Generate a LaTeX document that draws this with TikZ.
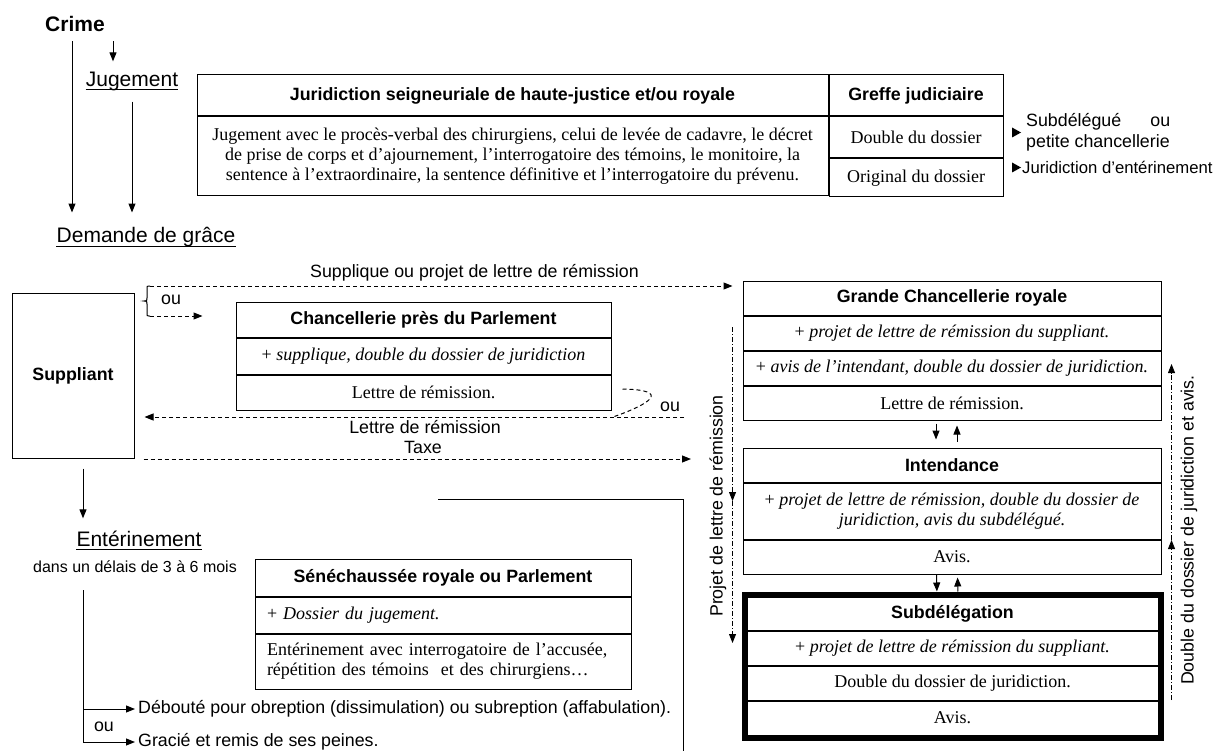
\documentclass[tikz,border=0pt]{standalone}
\usepackage{fontspec}
\setmainfont{Liberation Serif}
\setsansfont{Liberation Sans}
\usetikzlibrary{arrows.meta,positioning}

\newcommand\fgros{\fontsize{21}{24}\selectfont\sffamily}
\newcommand\ftitre{\fontsize{17.8}{20}\selectfont\sffamily\bfseries}
\newcommand\fsans{\fontsize{17.8}{21}\selectfont\sffamily}
\newcommand\fserif{\fontsize{18}{20}\selectfont\rmfamily}

\tikzset{
  case/.style={draw, line width=1pt, inner sep=0pt, align=center, font=\fserif},
  tete/.style={case, font=\ftitre},
  fleche/.style={line width=1pt, -{Triangle[length=9pt,width=7pt]}},
  tiret/.style={fleche, dash pattern=on 4pt off 3pt},
  mixte/.style={fleche, line width=0.8pt, dash pattern=on 5pt off 2pt on 1pt off 2pt},
  etiq/.style={font=\fsans, inner sep=0pt, align=left},
}

\begin{document}
\begin{tikzpicture}[x=1pt, y=-1pt]
 \useasboundingbox (0,0) rectangle (1230,751);
 % crime, jugement, demande
 \node[font=\fgros\bfseries, anchor=base, inner sep=0pt] (crime) at (75,32) {Crime};
 \node[font=\fgros, anchor=base, inner sep=0pt] (jug) at (132,87) {Jugement};
 \node[font=\fgros, anchor=base, inner sep=0pt] (dem) at (146,243) {Demande de grâce};
 \draw[line width=1pt] ([yshift=-3pt]jug.base west) -- ([yshift=-3pt]jug.base east);
 \draw[line width=1pt] ([yshift=-3pt]dem.base west) -- ([yshift=-3pt]dem.base east);
 \draw[fleche, shorten <=9pt, shorten >=15pt] ([xshift=-3pt]crime.south) -- ([xshift=-3pt]crime.south |- dem.north);
 \draw[fleche, shorten <=9pt, shorten >=11pt] ([xshift=38pt]crime.south) -- ([xshift=38pt]crime.south |- jug.north);
 \draw[fleche, shorten <=10pt, shorten >=15pt] (jug.south) -- (jug.south |- dem.north);

 \node[tete, minimum width=631pt, minimum height=41pt] (jur) at (512.5,95.5) {Juridiction seigneuriale de haute-justice et/ou royale};
 \node[case, minimum width=631pt, minimum height=79pt, below=0pt of jur] (jur2) {Jugement avec le procès-verbal des chirurgiens, celui de levée de cadavre, le décret\\de prise de corps et d’ajournement, l’interrogatoire des témoins, le monitoire, la\\sentence à l’extraordinaire, la sentence définitive et l’interrogatoire du prévenu.};
 \node[tete, minimum width=174pt, minimum height=41pt, right=0pt of jur] (gref) {Greffe judiciaire};
 \node[case, minimum width=174pt, minimum height=41pt, below=0pt of gref] (gref2) {Double du dossier};
 \node[case, minimum width=174pt, minimum height=38pt, below=0pt of gref2] (gref3) {Original du dossier};
 \fill (1012,127.5) -- (1021,132.5) -- (1012,137.5) -- cycle;
 \node[etiq, anchor=west] (subd) at (1026,132.5) {\hbox to 144pt{Subdélégué\hfill ou}\\petite chancellerie};
 \fill (1012,162.5) -- (1021,167.5) -- (1012,172.5) -- cycle;
 \node[etiq, anchor=west, font=\fontsize{16.7}{20}\selectfont\sffamily] (jent) at (1022,167) {Juridiction d'entérinement};

 % demande de grace
 \node[tete, minimum width=122pt, minimum height=165pt] (supp) at (73,375.5) {Suppliant};
 \node[tete, minimum width=375pt, minimum height=35pt] (cp) at (423.5,319.5) {Chancellerie près du Parlement};
 \node[case, minimum width=375pt, minimum height=36pt, below=0pt of cp] (cp2) {+ \textit{supplique, double du dossier de juridiction}};
 \node[case, minimum width=375pt, minimum height=35pt, below=0pt of cp2] (cp3) {Lettre de rémission.};

 \node[tete, minimum width=418pt, minimum height=34pt] (gc) at (952,298) {Grande Chancellerie royale};
 \node[case, minimum width=418pt, minimum height=34pt, below=0pt of gc] (gc2) {+ \textit{projet de lettre de rémission du suppliant.}};
 \node[case, minimum width=418pt, minimum height=34pt, below=0pt of gc2] (gc3) {+ \textit{avis de l’intendant, double du dossier de juridiction.}};
 \node[case, minimum width=418pt, minimum height=34pt, below=0pt of gc3] (gc4) {Lettre de rémission.};

 \node[tete, minimum width=418pt, minimum height=34pt] (int) at (952,465) {Intendance};
 \node[case, minimum width=418pt, minimum height=56pt, below=0pt of int] (int2) {+ \textit{projet de lettre de rémission, double du dossier de}\\\textit{juridiction, avis du subdélégué.}};
 \node[case, minimum width=418pt, minimum height=34pt, below=0pt of int2] (int3) {Avis.};

 \node[tete, minimum width=411pt, minimum height=33pt] (sub) at (952.5,613.5) {Subdélégation};
 \node[case, minimum width=411pt, minimum height=34pt, below=0pt of sub] (sub2) {+ \textit{projet de lettre de rémission du suppliant.}};
 \node[case, minimum width=411pt, minimum height=34pt, below=0pt of sub2] (sub3) {Double du dossier de juridiction.};
 \node[case, minimum width=411pt, minimum height=34pt, below=0pt of sub3] (sub4) {Avis.};
 \draw[line width=5pt] ([shift={(-2.5pt,2.5pt)}]sub.north west) rectangle ([shift={(2.5pt,-2.5pt)}]sub4.south east);

 \draw[fleche, shorten <=3pt, shorten >=8pt] ([xshift=-16pt]gc4.south) -- ([xshift=-16pt]int.north);
 \draw[fleche, shorten <=6pt, shorten >=5pt] ([xshift=5pt]int.north) -- ([xshift=5pt]gc4.south);
 \draw[fleche, shorten >=5pt] ([xshift=-15.5pt]int3.south) -- ([xshift=-15.5pt]sub.north);
 \draw[fleche, shorten <=5pt, shorten >=3pt] ([xshift=5.5pt]sub.north) -- ([xshift=5.5pt]int3.south);

 \coordinate (pa) at ([xshift=-10pt,yshift=6pt]gc2.west);
 \coordinate (pb) at ([xshift=-10pt,yshift=10pt]int2.west);
 \coordinate (pc) at ([xshift=-14pt,yshift=5pt]sub2.west);
 \draw[mixte] (pa) -- (pb);
 \draw[mixte] (pb) -- (pc);
 \node[etiq, rotate=90] (proj) at (718,506) {Projet de lettre de rémission};
 \coordinate (qa) at ([xshift=10pt,yshift=4pt]gc3.east);
 \coordinate (qb) at ([xshift=10pt,yshift=17pt]int3.east);
 \coordinate (qc) at ([xshift=13pt,yshift=18pt]sub4.east);
 \draw[mixte] (qc) -- (qb);
 \draw[mixte] (qb) -- (qa);
 \node[etiq, rotate=90] (doub) at (1189,530) {Double du dossier de juridiction et avis.};

 % supplique et lettre
 \coordinate (b1) at (150,286);
 \coordinate (b2) at (150,316);
 \draw[line width=1pt] (b1) -- (149,286) .. controls (147,286) .. (147,289) -- (147,298) .. controls (147,301) .. (144,301) .. controls (147,301) .. (147,304) -- (147,313) .. controls (147,316) .. (149,316) -- (b2);
 \draw[tiret, shorten >=10pt] (b1) -- (gc.west |- b1);
 \draw[tiret, shorten >=33pt] (b2) -- (cp.west |- b2);
 \node[etiq] (ou1) at (171,300) {ou};
 \node[etiq, anchor=west] (suppl) at (310,273) {Supplique ou projet de lettre de rémission};

 \coordinate (l1) at (684,417);
 \coordinate (t1) at (691,459);
 \draw[tiret, shorten >=10pt] (l1) -- (supp.east |- l1);
 \draw[tiret, shorten <=9pt] (supp.east |- t1) -- (t1);
 \node[etiq] (lettre) at (425,427) {Lettre de rémission};
 \node[etiq] (taxe) at (423,447) {Taxe};
 \draw[line width=1pt, dash pattern=on 4pt off 3pt] ([xshift=11pt,yshift=3.5pt]cp3.east) .. controls (672,390) and (650,404) .. (613,417);
 \node[etiq] (ou2) at (670,407) {ou};

 % enterinement
 \node[font=\fgros, anchor=base, inner sep=0pt] (ent) at (139,546) {Entérinement};
 \draw[line width=1pt] ([yshift=-3pt]ent.base west) -- ([yshift=-3pt]ent.base east);
 \node[etiq, font=\fontsize{16}{19}\selectfont\sffamily] (delai) at (135,567) {dans un délais de 3 à 6 mois};
 \draw[fleche, shorten <=10pt, shorten >=12pt] ([xshift=10pt]supp.south) -- ([xshift=10pt]supp.south |- ent.north);
 \node[tete, minimum width=376pt, minimum height=37pt] (sen) at (443,577.5) {Sénéchaussée royale ou Parlement};
 \node[case, minimum width=376pt, minimum height=36pt, text width=352pt, align=left, below=0pt of sen] (sen2) {+ \textit{Dossier du jugement.}};
 \node[case, minimum width=376pt, minimum height=55pt, text width=352pt, align=left, below=0pt of sen2] (sen3) {Entérinement avec interrogatoire de l’accusée,\\répétition des témoins\ \ et des chirurgiens…};

 \node[etiq, anchor=west] (deb) at (138,709) {Débouté pour obreption (dissimulation) ou subreption (affabulation).};
 \node[etiq, anchor=west] (grac) at (138,742) {Gracié et remis de ses peines.};
 \node[etiq] (ou3) at (104,727) {ou};
 \coordinate (e0) at (83,590);
 \draw[fleche, shorten >=3pt] (e0) |- (grac.west);
 \draw[fleche, shorten >=3pt] (e0 |- deb.west) -- (deb.west);
 \draw[line width=1pt] (438,499) -| (683,751);
\end{tikzpicture}
\end{document}
